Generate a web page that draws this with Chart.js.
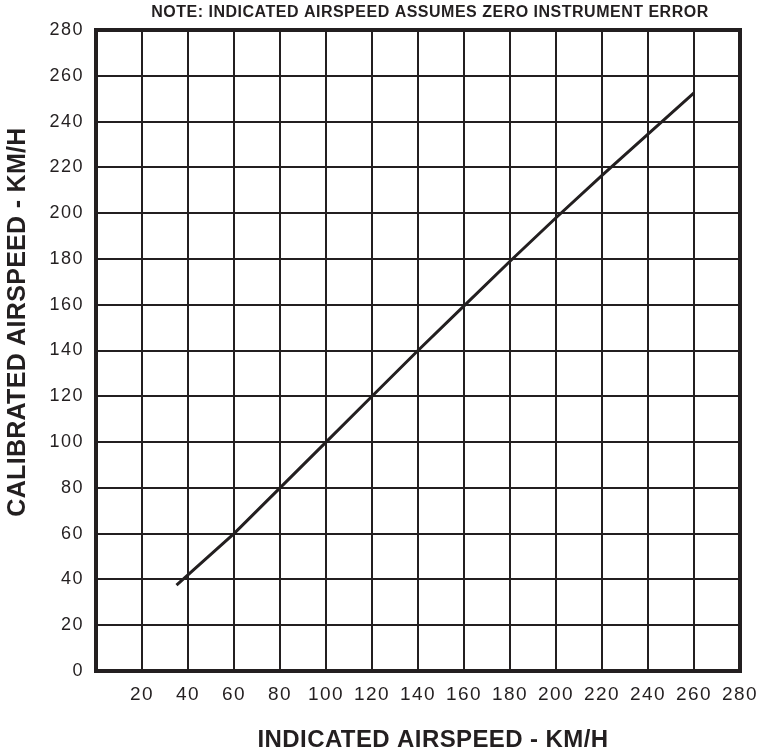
<!DOCTYPE html>
<html>
<head>
<meta charset="utf-8">
<script src="https://cdn.jsdelivr.net/npm/chart.js@4/dist/chart.umd.min.js"></script>
<style>
  html, body { margin: 0; padding: 0; background: #ffffff; }
  #wrap { width: 764px; height: 753px; }
</style>
</head>
<body>
<div id="wrap"><canvas id="chart" width="764" height="753"></canvas></div>
<script>
// данные
const indicatedKmh = [35, 60, 80, 100, 120, 140, 160, 180, 200, 220, 240, 260];
const calibratedKmh = [37.5, 60, 80, 100, 120, 140, 159.5, 179, 198, 216.5, 234.5, 252.5];
const axisMin = 0;
const axisMax = 280;
const tickStep = 20;

const noteText = 'NOTE: INDICATED AIRSPEED ASSUMES ZERO INSTRUMENT ERROR';
const xTitle = 'INDICATED AIRSPEED - KM/H';
const yTitle = 'CALIBRATED AIRSPEED - KM/H';

const ink = '#231f20';
const font = 'Liberation Sans, Arial, Helvetica, sans-serif';

// плагин для толстой рамки вокруг поля диаграммы
const chartAreaBorder = {
  id: 'chartAreaBorder',
  beforeDraw(chart) {
    // разрядка букв как на оригинале (подписи делений)
    chart.ctx.letterSpacing = '1.5px';
  },
  afterDraw(chart, args, options) {
    const {
      ctx, chartArea: {
        left, top, width, height,
      },
    } = chart;
    ctx.save();
    ctx.strokeStyle = options.borderColor;
    ctx.lineWidth = options.borderWidth;
    ctx.strokeRect(left, top, width, height);
    ctx.restore();
  },
};

// плагин для надписей: примечание сверху и названия осей
const chartTexts = {
  id: 'chartTexts',
  afterDraw(chart) {
    const { ctx } = chart;
    ctx.save();
    ctx.fillStyle = ink;
    ctx.textAlign = 'center';
    ctx.textBaseline = 'middle';

    ctx.letterSpacing = '0.5px';
    ctx.font = `bold 16px ${font}`;
    ctx.fillText(noteText, 430, 13);

    ctx.letterSpacing = '0.4px';
    ctx.font = `bold 24px ${font}`;
    ctx.fillText(xTitle, 433, 740);

    ctx.translate(18, 322);
    ctx.rotate(-Math.PI / 2);
    ctx.letterSpacing = '0.3px';
    ctx.font = `bold 25px ${font}`;
    ctx.fillText(yTitle, 0, 0);
    ctx.restore();
  },
};

const points = indicatedKmh.map((x, i) => ({ x, y: calibratedKmh[i] }));

const chart = new Chart(document.getElementById('chart'), {
  type: 'scatter',
  data: {
    datasets: [{
      data: points,
      showLine: true,
      borderColor: ink,
      borderWidth: 3,
      pointRadius: 0,
      tension: 0,
    }],
  },
  options: {
    responsive: false,
    animation: false,
    layout: { padding: { left: 0, right: 24, top: 30, bottom: 0 } },
    plugins: {
      legend: { display: false },
      tooltip: { enabled: false },
      title: { display: false },
      chartAreaBorder: {
        borderColor: ink,
        borderWidth: 4,
      },
    },
    scales: {
      x: {
        type: 'linear',
        min: axisMin,
        max: axisMax,
        afterFit: (scale) => {
          scale.height = 82;
          scale.paddingLeft = 0;
          scale.paddingRight = 0;
        },
        grid: { color: ink, lineWidth: 2, drawTicks: false },
        border: { display: false },
        ticks: {
          stepSize: tickStep,
          color: ink,
          padding: 12,
          maxRotation: 0,
          font: { family: font, size: 19 },
          callback: (v) => (v === 0 ? '' : v),
        },
      },
      y: {
        type: 'linear',
        min: axisMin,
        max: axisMax,
        afterFit: (scale) => { scale.width = 96; },
        grid: { color: ink, lineWidth: 2, drawTicks: false },
        border: { display: false },
        ticks: {
          stepSize: tickStep,
          color: ink,
          padding: 12,
          font: { family: font, size: 18 },
        },
      },
    },
  },
  plugins: [chartAreaBorder, chartTexts],
});
</script>
</body>
</html>
